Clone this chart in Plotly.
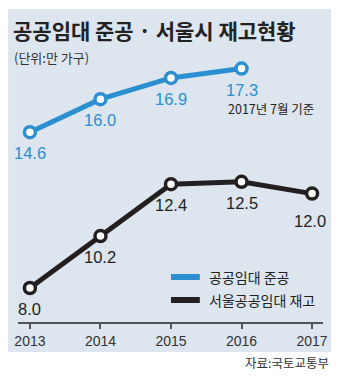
import plotly.graph_objects as go

years = [2013, 2014, 2015, 2016, 2017]
completed = [14.6, 16.0, 16.9, 17.3]          # 공공임대 준공 (2013-2016)
stock = [8.0, 10.2, 12.4, 12.5, 12.0]         # 서울공공임대 재고
completed_labels = ["14.6", "16.0", "16.9", "17.3"]
stock_labels = ["8.0", "10.2", "12.4", "12.5", "12.0"]
name_completed = "공공임대 준공"
name_stock = "서울공공임대 재고"
title = "공공임대 준공 · 서울시 재고현황"
unit = "(단위:만 가구)"
note = "2017년 7월 기준"
source = "자료:국토교통부"

W, H = 340, 378
L, R, T, B = 18, 325, 40, 322
def px(x):
    return (x - L) / (R - L)
def py(y):
    return (B - y) / (B - T)

BLUE = "#2b8fd0"
BLACK = "#231f20"
KR = "Noto Sans CJK KR"
NUM = "Liberation Sans Narrow, Liberation Sans, sans-serif"

fig = go.Figure()
fig.add_trace(go.Scatter(
    x=years[:len(completed)], y=completed, mode="lines+markers",
    line=dict(color=BLUE, width=5),
    marker=dict(size=11, color="white", line=dict(color=BLUE, width=3.5)),
    showlegend=False, cliponaxis=False))
fig.add_trace(go.Scatter(
    x=years, y=stock, mode="lines+markers",
    line=dict(color=BLACK, width=5),
    marker=dict(size=11, color="white", line=dict(color=BLACK, width=3.5)),
    showlegend=False, cliponaxis=False))

shapes = [
    dict(type="rect", xref="paper", yref="paper", layer="below",
         x0=px(8), x1=px(333), y0=py(352), y1=py(9),
         fillcolor="#dde5ee", line=dict(width=0)),
    dict(type="line", xref="paper", yref="paper",
         x0=px(172), x1=px(201), y0=py(277), y1=py(277),
         line=dict(color=BLUE, width=6)),
    dict(type="line", xref="paper", yref="paper",
         x0=px(172), x1=px(201), y0=py(300), y1=py(300),
         line=dict(color=BLACK, width=6)),
]

def ann(text, x, y, size, color="#222", xanchor="left", family=KR, bold=False):
    t = f"<b>{text}</b>" if bold else text
    return dict(text=t, xref="paper", yref="paper", x=px(x), y=py(y),
                xanchor=xanchor, yanchor="middle", showarrow=False,
                font=dict(family=family, size=size, color=color))

annotations = [
    ann(title, 11, 30, 21, "#222", bold=True),
    ann(unit, 12, 58, 13, "#333"),
    ann(note, 318, 108, 12.5, "#222", xanchor="right"),
    ann(name_completed, 208, 277, 14, "#222"),
    ann(name_stock, 208, 300, 14, "#222"),
    ann(source, 333, 362, 12.5, "#333", xanchor="right"),
]

# data labels placed from data values, shifted below each point
for xs, ys, labels, color in [(years, completed, completed_labels, BLUE),
                              (years, stock, stock_labels, BLACK)]:
    for i, (xv, yv, lab) in enumerate(zip(xs, ys, labels)):
        shift = -21
        xshift = 0
        if color == BLACK and i == len(labels) - 1:
            shift = -27
            xshift = -2
        annotations.append(dict(
            x=xv, y=yv, xref="x", yref="y", text=lab, showarrow=False,
            yshift=shift, xshift=xshift, xanchor="center", yanchor="middle",
            font=dict(family=NUM, size=16.5, color=color)))

fig.update_layout(
    width=W, height=H,
    margin=dict(l=L, r=W - R, t=T, b=H - B),
    paper_bgcolor="white", plot_bgcolor="rgba(0,0,0,0)",
    shapes=shapes, annotations=annotations,
    xaxis=dict(range=[2013 - 12/71, 2017 + 11/71], tickvals=years,
               ticktext=[str(y) for y in years], showgrid=False, zeroline=False,
               showline=True, linecolor="#555", linewidth=2,
               ticks="outside", ticklen=5, tickwidth=2, tickcolor="#555",
               tickfont=dict(family=NUM, size=14, color="#333"), fixedrange=True),
    yaxis=dict(range=[8 - 34/23.6, 8 - 34/23.6 + 282/23.6], visible=False,
               showgrid=False, zeroline=False, fixedrange=True),
)

fig.write_html("out.html", config=dict(displayModeBar=False))
